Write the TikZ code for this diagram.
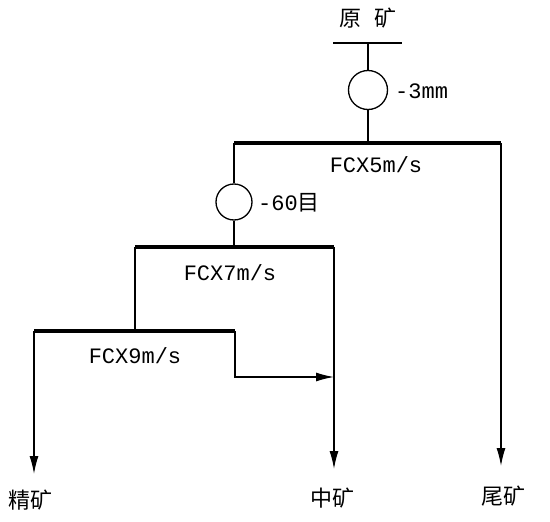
\documentclass[tikz,border=0pt]{standalone}
\usepackage{fontspec}
\setmainfont{Liberation Mono}
\newfontfamily\cjk{Noto Sans CJK SC}
\usetikzlibrary{arrows.meta}

\tikzset{
    flow/.style={line width=1.4pt},
    bar/.style={line width=4.5pt},
    screen/.style={draw, circle, line width=1.3pt, inner sep=0pt},
    product/.style={flow, -{Latex[length=18pt,width=9pt]}},
    txt/.style={font=\fontsize{22}{26}\selectfont, inner sep=0pt}
}

\begin{document}
\begin{tikzpicture}[x=1pt, y=-1pt]
    \useasboundingbox (0,0) rectangle (550,522);

    % Feed
    \node[txt] (feed) at (368,18) {\cjk 原\hspace{14pt}矿};
    \coordinate (feedL) at (333,43);
    \coordinate (feedR) at (402,43);
    \coordinate (feedM) at (368,43);
    \draw[flow] (feedL) -- (feedR);

    % Screen -3mm
    \node[screen, minimum size=39pt] (s1) at (368,90) {};
    \node[txt, anchor=west] (s1lab) at (395,91) {-3mm};

    % FCX 5 m/s
    \coordinate (b1L) at (234,143);
    \coordinate (b1R) at (501,143);
    \coordinate (b1M) at (368,143);
    \draw[bar] (b1L) -- (b1R);
    \node[txt] (fcx5) at (376,165) {FCX5m/s};

    % Screen -60 mesh
    \node[screen, minimum size=36pt] (s2) at (234,202) {};
    \node[txt, anchor=west] (s2lab) at (258,203) {-60{\cjk 目}};

    % FCX 7 m/s
    \coordinate (b2L) at (135,247);
    \coordinate (b2R) at (334,247);
    \draw[bar] (b2L) -- (b2R);
    \node[txt] (fcx7) at (230,273) {FCX7m/s};

    % FCX 9 m/s
    \coordinate (b3L) at (34,331);
    \coordinate (b3R) at (235,331);
    \draw[bar] (b3L) -- (b3R);
    \node[txt] (fcx9) at (135,356) {FCX9m/s};

    % Products
    \node[txt] (conc) at (31,500) {\cjk 精矿};
    \node[txt] (midd) at (332,498) {\cjk 中矿};
    \node[txt] (tail) at (503,496) {\cjk 尾矿};
    \coordinate (concT) at (34,474);
    \coordinate (middT) at (334,469);
    \coordinate (tailT) at (501,466);
    \coordinate (step) at (334,377);

    % Lines
    \draw[flow] (feedM) -- (s1);
    \draw[flow] (s1) -- (b1M);
    \draw[flow] (b1L) -- (s2);
    \draw[flow] (s2) -- (b2L -| s2);
    \draw[flow] (b2L) -- (b3L -| b2L);
    \draw[product] (b1R) -- (tailT);
    \draw[product] (b2R) -- (middT);
    \draw[product] (b3L) -- (concT);
    \draw[product] (b3R) |- (step);
\end{tikzpicture}
\end{document}
